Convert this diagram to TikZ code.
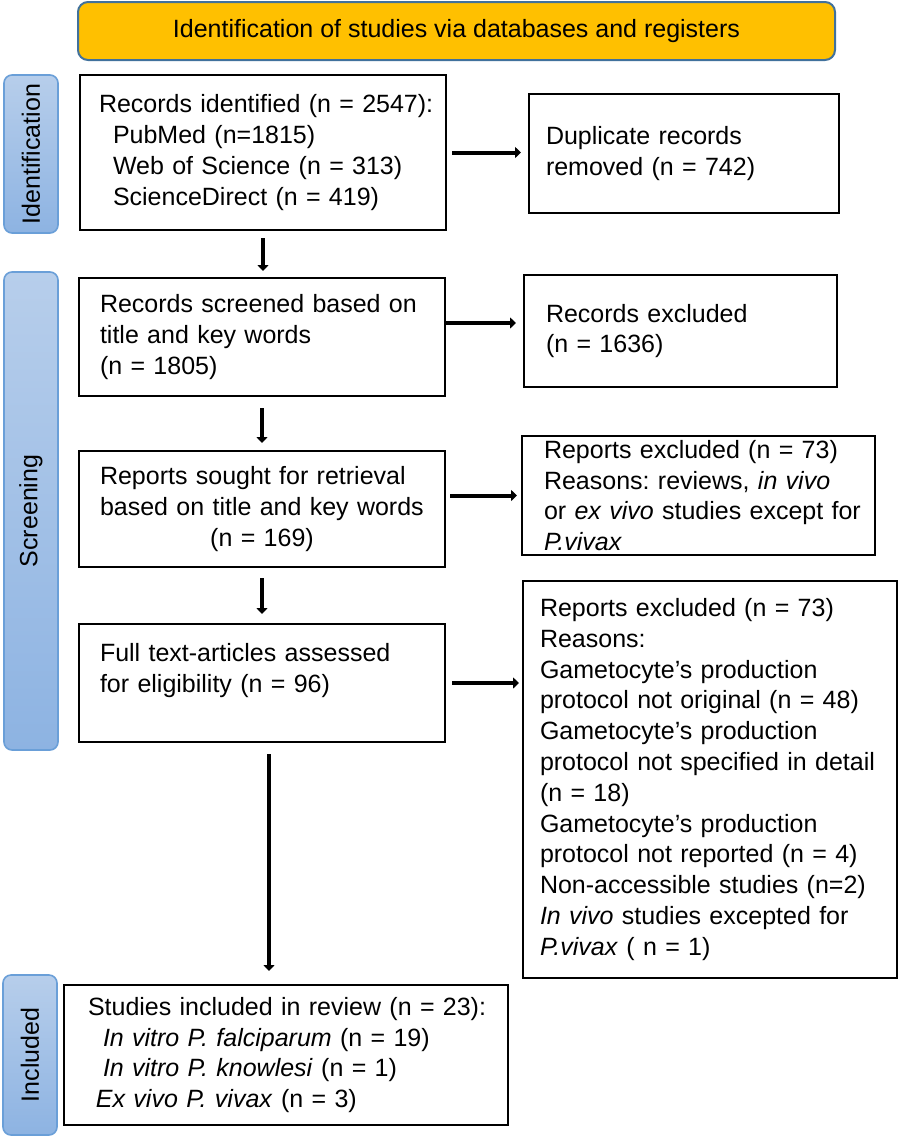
\documentclass[tikz,border=0pt]{standalone}
\usepackage{fontspec}
\setmainfont{Liberation Sans}
\usepackage{graphicx}
\usepackage{xcolor}
\usetikzlibrary{positioning,arrows.meta}
\definecolor{banner}{HTML}{FFC000}
\definecolor{bannerline}{HTML}{41719C}
\definecolor{barline}{HTML}{6A9FD8}
\definecolor{bartop}{HTML}{B7CEEB}
\definecolor{barbot}{HTML}{8DB3E2}
\frenchspacing

\begin{document}
\begin{tikzpicture}[x=0.5pt, y=-0.5pt, font=\fontsize{12.5}{15.4}\selectfont,
  box/.style={draw, line width=1pt, align=left, inner ysep=0pt, execute at begin node={\rightskip=-20pt plus 2em}},
  bar/.style={draw=barline, line width=0.8pt, rounded corners=4pt, top color=bartop, bottom color=barbot, minimum width=27pt, inner sep=0pt},
  arr/.style={line width=2pt, -{Triangle[length=3pt,width=5.5pt]}}]
\useasboundingbox (0,0) rectangle (898,1137);
\node[draw=bannerline, fill=banner, line width=1pt, rounded corners=5pt, minimum width=378.5pt, minimum height=29pt] (head) at (456.5,31) {Identification of studies via databases and registers};
% stage bars
\node[bar, minimum height=79pt] (sid) at (31,154) {\rotatebox{90}{Identification}};
\node[bar, minimum height=239pt] (sscr) at (31,511) {\rotatebox{90}{Screening}};
\node[bar, minimum height=80pt] (sinc) at (30,1055) {\rotatebox{90}{Included}};
% main column
\node[box, inner xsep=9.5pt, text width=164pt, minimum height=77.5pt] (ident) at (263,152.5) {Records identified (n = 2547):\\\hspace*{7pt}PubMed (n=1815)\\\hspace*{7pt}Web of Science (n = 313)\\\hspace*{7pt}ScienceDirect (n = 419)};
\node[box, inner xsep=10.5pt, text width=162pt, minimum height=59pt] (screen) at (262,337) {Records screened based on\\title and key words\\(n = 1805)};
\node[box, inner xsep=10.5pt, text width=162pt, minimum height=58pt] (sought) at (262,509) {Reports sought for retrieval\\based on title and key words\\\hbox to\hsize{\hfil(n = 169)\hfil}};
\node[box, inner xsep=10.5pt, text width=162pt, minimum height=59pt] (full) at (262,683) {Full text-articles assessed\\for eligibility (n = 96)\\\mbox{}};
\node[box, inner xsep=12pt, text width=198pt, minimum height=70pt] (incl) at (286,1055) {Studies included in review (n = 23):\\\hspace*{7.5pt}\textit{In vitro P. falciparum} (n = 19)\\\hspace*{7.5pt}\textit{In vitro P. knowlesi} (n = 1)\\\hspace*{4pt}\textit{Ex vivo P. vivax} (n = 3)};
% exclusions
\node[box, inner xsep=8.5pt, text width=138pt, minimum height=59.5pt] (dup) at (684,153.5) {Duplicate records\\removed (n = 742)};
\node[box, inner xsep=11pt, text width=134.5pt, minimum height=56pt] (recex) at (680.5,331) {Records excluded\\(n = 1636)};
\node[box, inner xsep=11pt, text width=154.5pt, minimum height=59.5pt] (rep1) at (698.5,495.5) {Reports excluded (n = 73)\\Reasons: reviews, \textit{in vivo}\\or \textit{ex vivo} studies except for\\\textit{P.vivax}};
\node[box, inner xsep=8.5pt, text width=170pt, minimum height=198.5pt] (rep2) at (710,779.5) {Reports excluded (n = 73)\\Reasons:\\Gametocyte’s production\\protocol not original (n = 48)\\Gametocyte’s production\\protocol not specified in detail\\(n = 18)\\Gametocyte’s production\\protocol not reported (n = 4)\\Non-accessible studies (n=2)\\\textit{In vivo} studies excepted for\\\textit{P.vivax} ( n = 1)};
% arrows
\draw[arr, shorten <=2.5pt, shorten >=3.5pt] (ident.east) -- (ident.east -| dup.west);
\draw[arr, shorten >=3.5pt] ([yshift=4pt]recex.west -| screen.east) -- ([yshift=4pt]recex.west);
\draw[arr, shorten <=2pt, shorten >=2pt] (sought.east |- rep1.west) -- (rep1.west);
\draw[arr, shorten <=3pt, shorten >=1.5pt] (full.east) -- (full.east -| rep2.west);
\draw[arr, shorten <=3.5pt, shorten >=3pt] (ident.south) -- (ident.south |- screen.north);
\draw[arr, shorten <=5.5pt, shorten >=3.5pt] (screen.south) -- (sought.north);
\draw[arr, shorten <=5pt, shorten >=4.5pt] (sought.south) -- (full.north);
\draw[arr, shorten <=5.5pt, shorten >=6.5pt] ([xshift=3.5pt]full.south) -- ([xshift=3.5pt]full.south |- incl.north);
\end{tikzpicture}
\end{document}
